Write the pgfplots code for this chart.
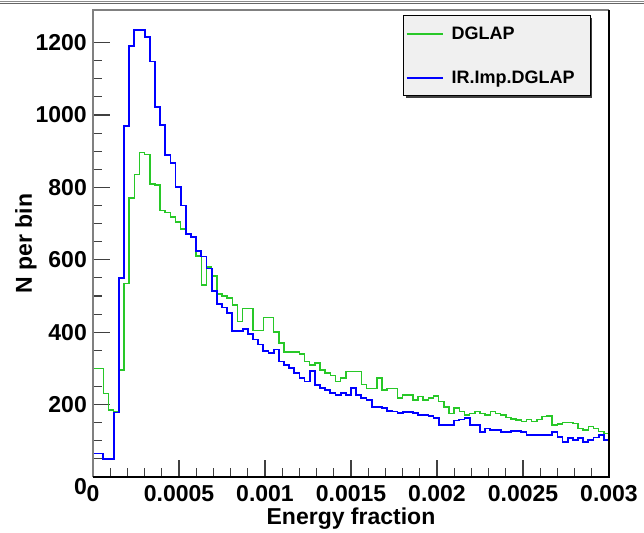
\documentclass[border=0pt]{standalone}
\usepackage{fontspec}
\setmainfont{Liberation Sans}
\usepackage{pgfplots}
\usepackage{pgfplotstable}
\pgfplotsset{compat=1.18}
\definecolor{dglap}{RGB}{40,200,40}
\definecolor{irblue}{RGB}{0,0,255}
\definecolor{leggray}{RGB}{240,240,240}

% x in units of 1e-5 (bin width 3e-5), g = DGLAP, b = IR.Imp.DGLAP
\pgfplotstableread{
x g b
0 300 65
3 300 65
6 230 50
9 185 50
12 180 178
15 296 550
18 534 970
21 770 1190
24 836 1235
27 896 1235
30 891 1215
33 810 1148
36 806 1021
39 736 972
42 730 889
45 718 868
48 704 801
51 685 750
54 671 671
57 662 662
60 610 625
63 530 609
66 580 576
69 555 514
72 505 477
75 500 468
78 495 454
81 475 403
84 430 403
87 465 408
90 465 394
93 405 380
96 405 366
99 440 347
102 440 343
105 400 352
108 370 319
111 345 310
114 345 301
117 345 287
120 340 273
123 319 264
126 310 292
129 315 255
132 296 245
135 287 241
138 280 231
141 264 227
144 273 231
147 292 227
150 292 245
153 292 227
156 255 218
159 245 213
162 245 194
165 273 193
168 241 190
171 245 183
174 245 181
177 218 176
180 227 180
183 227 180
186 213 176
189 222 171
192 213 171
195 218 168
198 224 162
201 208 144
204 193 144
207 176 144
210 190 156
213 181 159
216 171 162
219 176 144
222 181 144
225 176 125
228 171 134
231 181 130
234 176 130
237 171 125
240 165 125
243 160 128
246 157 128
249 153 125
252 159 116
255 153 116
258 159 116
261 167 116
264 168 116
267 144 125
270 147 111
273 150 97
276 150 107
279 148 102
282 134 107
285 130 97
288 139 102
291 134 109
294 125 116
297 120 102
300 120 102
}\histdata

\begin{document}
\begin{tikzpicture}
\useasboundingbox (0,0) rectangle (644bp,533bp);
% legend shadow
\fill[black!75] (406bp,435bp) rectangle (592bp,515bp);
\begin{axis}[
  at={(93bp,56bp)}, anchor=south west,
  scale only axis, width=516bp, height=467bp,
  xmin=0, xmax=300, ymin=0, ymax=1290,
  axis line style={draw=none},
  tick align=inside,
  xtick pos=lower, ytick pos=left,
  xtick={0,50,100,150,200,250,300},
  xticklabels={0,0.0005,0.001,0.0015,0.002,0.0025,0.003},
  minor x tick num=4,
  ytick={0,200,400,600,800,1000,1200},
  yticklabels={\raisebox{-17bp}[0pt][0pt]{0},200,400,600,800,1000,1200},
  minor y tick num=3,
  major tick length=17bp, minor tick length=9bp,
  every tick/.style={black!75, line width=1.1bp},
  ticklabel style={font=\fontsize{23bp}{27bp}\selectfont\bfseries},
  xticklabel style={anchor=north, inner sep=0pt, yshift=-8bp},
  yticklabel style={anchor=east, inner sep=0pt, xshift=-6bp},
  xlabel={Energy fraction},
  ylabel={N per bin},
  every axis x label/.style={at={(axis description cs:0.5,0)}, anchor=north, inner sep=0pt, yshift=-31bp, font=\fontsize{23bp}{27bp}\selectfont\bfseries},
  every axis y label/.style={at={(axis description cs:-0.1298,0.5)}, anchor=center, rotate=90, inner sep=0pt, font=\fontsize{23bp}{27bp}\selectfont\bfseries},
  legend style={at={(0.601,0.989)}, anchor=north west, draw=black, line width=1bp,
    fill=leggray, inner xsep=2bp, inner ysep=9bp, row sep=26bp, column sep=6bp,
    font=\fontsize{18bp}{21bp}\selectfont\bfseries},
  legend cell align=left,
  legend image code/.code={\draw[#1] (0bp,0bp) -- (36bp,0bp);},
]
\addplot[const plot, color=dglap, line width=1.5bp, forget plot] table[x=x, y=g] {\histdata};
\addplot[const plot, color=irblue, line width=1.8bp, forget plot] table[x=x, y=b] {\histdata};
\addlegendimage{draw=dglap, line width=2bp}
\addlegendentry{DGLAP\vphantom{p}}
\addlegendimage{draw=irblue, line width=2bp}
\addlegendentry{IR.Imp.DGLAP\makebox[12bp]{}}
\end{axis}
% frame
\draw[black!50, line width=1.3bp] (93bp,56bp) -- (93bp,523bp) -- (609bp,523bp);
\draw[black, line width=1.5bp] (93bp,56bp) -- (609bp,56bp) -- (609bp,523bp);
% canvas top border
\draw[black!45, line width=1bp] (0,531.5bp) -- (644bp,531.5bp);
\draw[black!60, line width=1bp] (0,529bp) -- (644bp,529bp);
\end{tikzpicture}
\end{document}
